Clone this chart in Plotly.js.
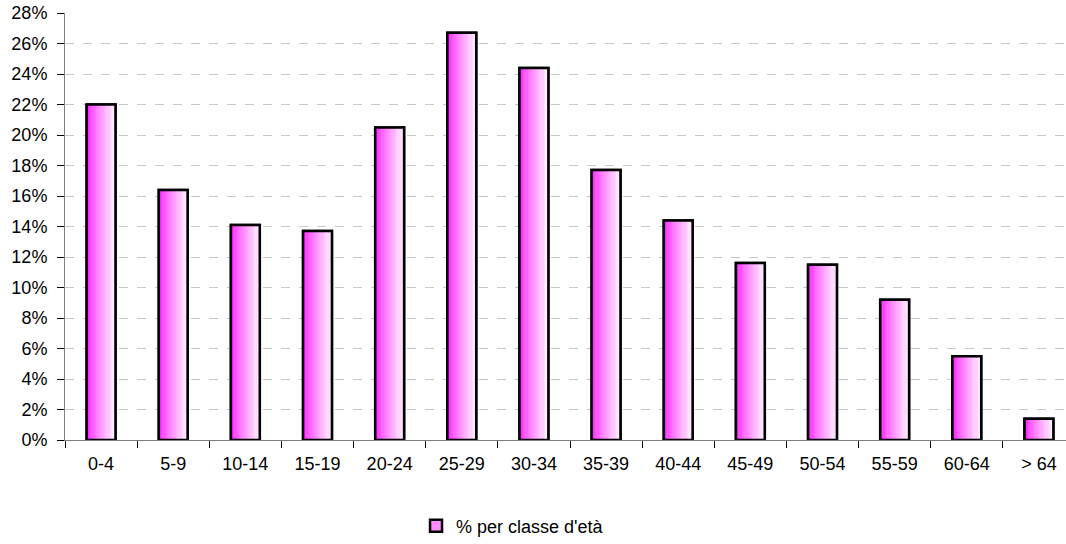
<!DOCTYPE html>
<html>
<head>
<meta charset="utf-8">
<script src="https://cdn.plot.ly/plotly-3.0.1.min.js"></script>
<style>html,body{margin:0;padding:0;overflow:hidden;background:#fff;}</style>
</head>
<body>
<div id="chart"></div>
<script>
const categories = ["0-4","5-9","10-14","15-19","20-24","25-29","30-34","35-39","40-44","45-49","50-54","55-59","60-64","> 64"];
const values = [22.0,16.4,14.1,13.7,20.5,26.7,24.4,17.7,14.4,11.6,11.5,9.2,5.5,1.4];
const seriesName = "% per classe d'età";
const yTickVals = [0,2,4,6,8,10,12,14,16,18,20,22,24,26,28];
const yTickText = yTickVals.map(v => v + "%");

const BAR_W = 0.4;
const N = 24;
const traces = [];
// legend / base trace
traces.push({
  type: 'bar', x: categories, y: values, name: seriesName, width: BAR_W,
  marker: {color: '#ff8cff', line: {color: '#000', width: 2.5}},
  showlegend: true, hoverinfo: 'skip'
});
// gradient slices
for (let i = 0; i < N; i++) {
  const t = i / (N - 1);
  const k = Math.pow(t, 0.8);
  const g = Math.round(25 + (250 - 25) * k);
  traces.push({
    type: 'bar', x: categories, y: values, width: BAR_W / N + 0.002,
    offset: -BAR_W / 2 + i * BAR_W / N,
    marker: {color: `rgb(255,${g},255)`, line: {width: 0}},
    showlegend: false, hoverinfo: 'skip'
  });
}
// outline
traces.push({
  type: 'bar', x: categories, y: values, width: BAR_W,
  marker: {color: 'rgba(0,0,0,0)', line: {color: '#000', width: 2.5}},
  showlegend: false, hoverinfo: 'skip'
});

const layout = {
  width: 1075, height: 544,
  margin: {l: 65, r: 0, t: 13, b: 104},
  barmode: 'overlay',
  paper_bgcolor: '#fff', plot_bgcolor: '#fff',
  font: {family: 'Liberation Sans, Arial, sans-serif', size: 18, color: '#000'},
  xaxis: {
    type: 'category', tickson: 'boundaries', ticks: 'outside', ticklen: 7,
    tickcolor: '#000', tickwidth: 1, showline: true, linecolor: '#808080', linewidth: 1,
    showgrid: false, ticklabelstandoff: 7, zeroline: false
  },
  yaxis: {
    range: [0, 28], tickvals: yTickVals, ticktext: yTickText,
    ticks: 'outside', ticklen: 7, tickcolor: '#000', tickwidth: 1,
    showline: true, linecolor: '#808080', linewidth: 1,
    showgrid: true, gridcolor: '#c8c8c8', griddash: 'dash', gridwidth: 1,
    zeroline: false, ticklabelstandoff: 6
  },
  legend: {
    orientation: 'h', xref: 'container', yref: 'container',
    x: 0.387, xanchor: 'left', y: 0.033, yanchor: 'middle',
    font: {size: 18}
  },
  showlegend: true
};
Plotly.newPlot('chart', traces, layout, {displayModeBar: false, staticPlot: true});
</script>
</body>
</html>
